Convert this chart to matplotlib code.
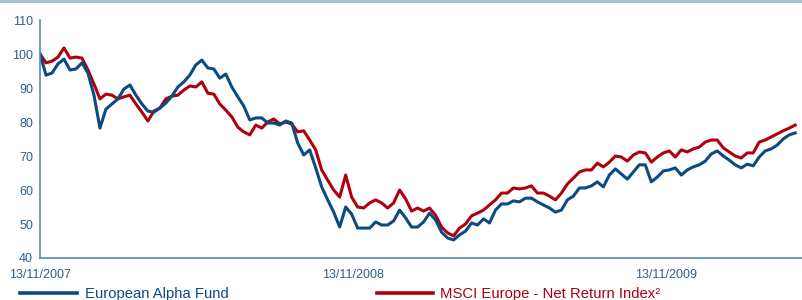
import pandas as pd
import matplotlib
matplotlib.use('Agg')
import matplotlib.pyplot as plt
import matplotlib.dates as mdates
from matplotlib.lines import Line2D

plt.rcParams['font.family'] = ['Liberation Sans', 'DejaVu Sans']

# weekly readings from 13/11/2007, rebased to 100
start_date = '2007-11-13'
n_weeks = 127

alpha_fund = [100.0, 93.8, 94.4, 97.1, 98.5, 95.3, 95.6, 97.4, 94.4, 87.9,
              78.2, 83.8, 85.3, 86.8, 89.7, 90.9, 87.9, 85.3, 83.2, 82.9,
              84.1, 85.6, 87.6, 90.3, 91.8, 93.8, 96.8, 98.2, 95.9, 95.6,
              92.9, 94.1, 90.3, 87.4, 84.7, 80.6, 81.2, 81.2, 79.7, 79.7,
              79.1, 80.3, 79.7, 73.8, 70.3, 71.8, 66.5, 60.9, 57.1, 53.5,
              49.1, 55.0, 52.9, 48.8, 48.8, 48.8, 50.6, 49.7, 49.7, 50.9,
              54.1, 51.8, 49.1, 49.1, 50.6, 53.2, 51.2, 47.6, 45.9, 45.3,
              46.8, 47.9, 50.3, 49.7, 51.5, 50.3, 54.1, 55.9, 55.9, 56.8,
              56.5, 57.6, 57.6, 56.5, 55.6, 54.7, 53.5, 54.1, 57.1, 58.2,
              60.6, 60.6, 61.2, 62.4, 60.9, 64.4, 66.2, 64.7, 63.2, 65.3,
              67.4, 67.4, 62.4, 63.8, 65.6, 65.9, 66.5, 64.4, 65.9, 66.8,
              67.4, 68.5, 70.6, 71.5, 70.0, 68.8, 67.4, 66.5, 67.6, 67.1,
              69.7, 71.5, 72.1, 73.2, 75.0, 76.2, 76.8]

msci_europe = [100.0, 97.4, 97.9, 99.1, 101.8, 98.8, 99.1, 98.8, 95.3, 91.2,
               86.8, 88.2, 87.9, 86.8, 87.4, 87.9, 85.3, 82.9, 80.3, 83.2,
               84.1, 86.8, 87.6, 87.9, 89.4, 90.6, 90.3, 91.8, 88.5, 88.2,
               85.3, 83.5, 81.5, 78.5, 77.1, 76.2, 79.1, 78.2, 80.0, 80.9,
               79.4, 80.0, 79.4, 77.1, 77.4, 74.7, 71.8, 65.9, 62.9, 60.0,
               57.9, 64.4, 57.9, 55.0, 54.7, 56.2, 57.1, 56.2, 54.7, 56.2,
               60.0, 57.4, 53.8, 54.7, 53.8, 54.7, 52.6, 49.1, 47.4, 46.5,
               48.8, 50.0, 52.4, 53.2, 54.1, 55.6, 57.1, 59.1, 59.1, 60.6,
               60.3, 60.6, 61.2, 59.1, 59.1, 58.2, 57.1, 59.1, 61.8, 63.5,
               65.3, 65.9, 65.9, 67.9, 66.8, 68.2, 70.0, 69.7, 68.5, 70.3,
               71.2, 70.9, 68.2, 69.7, 70.9, 71.5, 69.7, 71.8, 71.2, 72.1,
               72.6, 74.1, 74.7, 74.7, 72.4, 71.2, 70.0, 69.4, 70.9, 70.9,
               74.1, 74.7, 75.6, 76.5, 77.4, 78.2, 79.1]

tick_dates = ['2007-11-13', '2008-11-13', '2009-11-13']

blue = '#0b4a82'
red = '#b0000f'
txt = '#2d5f8f'

dates = pd.date_range(start_date, periods=n_weeks, freq='W-TUE')

fig = plt.figure(figsize=(8.02, 3.0), dpi=100)
ax = fig.add_axes([0.0499, 0.14, 0.9501, 0.7933])

ax.plot(dates, msci_europe, color=red, lw=2.2, solid_joinstyle='round')
ax.plot(dates, alpha_fund, color=blue, lw=2.2, solid_joinstyle='round')

ax.set_ylim(40, 110)
ax.set_yticks(range(40, 111, 10))
ax.set_xlim(pd.Timestamp(start_date), pd.Timestamp(start_date) + pd.Timedelta(days=890))
ax.set_xticks(pd.to_datetime(tick_dates))
ax.xaxis.set_major_formatter(mdates.DateFormatter('%d/%m/%Y'))

for s in ['top', 'right']:
    ax.spines[s].set_visible(False)
for s in ['left', 'bottom']:
    ax.spines[s].set_color('#5b86b4')
    ax.spines[s].set_linewidth(1.2)
ax.tick_params(axis='both', length=0, labelsize=9, labelcolor=txt)
ax.tick_params(axis='y', pad=5)
ax.tick_params(axis='x', pad=8)

# top rule
fig.add_artist(Line2D([0, 1], [0.996, 0.996], color='#a9c0dc', lw=2.2))

# legend drawn along the bottom edge
fig.add_artist(Line2D([0.025, 0.096], [0.022, 0.022], color=blue, lw=2.6))
fig.text(0.106, 0.007, 'European Alpha Fund', color=blue, fontsize=10.7, va='baseline')
fig.add_artist(Line2D([0.470, 0.540], [0.022, 0.022], color=red, lw=2.6))
fig.text(0.549, 0.007, 'MSCI Europe - Net Return Index²', color=red, fontsize=10.7, va='baseline')

fig.savefig('out.png', dpi=100)
